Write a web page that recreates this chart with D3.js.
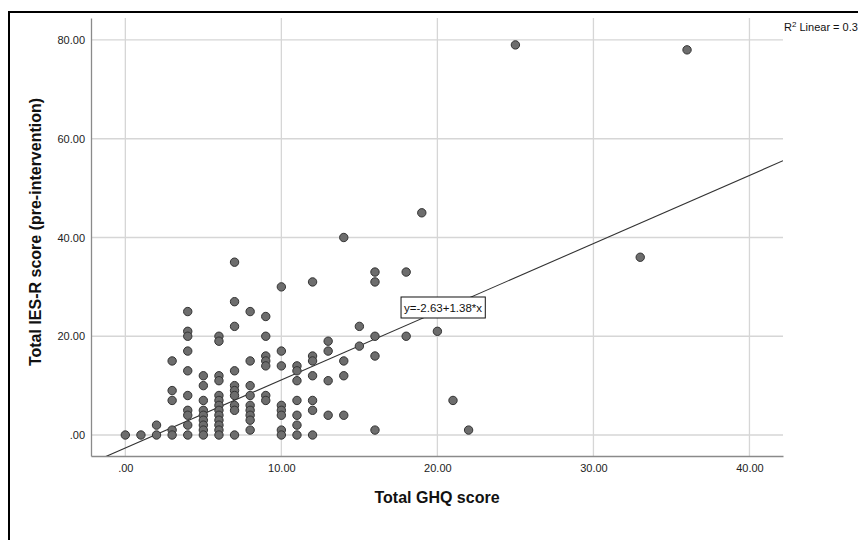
<!DOCTYPE html>
<html lang="en">
<head>
    <meta charset="UTF-8">
    <title>Total GHQ score vs Total IES-R score</title>
    <style>
        body, html {
            margin: 0;
            padding: 0;
            width: 100%;
            height: 100%;
            overflow: hidden;
            background-color: #fff;
            font-family: Arial, 'Liberation Sans', sans-serif;
        }
        .tick-label {
            font-size: 11px;
            fill: #222;
        }
        .axis-title {
            font-size: 16px;
            font-weight: bold;
            fill: #111;
        }
    </style>
</head>
<body>

<div id="chart"></div>

<script src="https://d3js.org/d3.v7.min.js"></script>
<script>
    // GHQ score (x) and IES-R score (y), one entry per respondent
    const ghqScore = [
        0, 1, 2, 2,
        3, 3, 3, 3, 3,
        4, 4, 4, 4, 4, 4, 4, 4, 4, 4,
        5, 5, 5, 5, 5, 5, 5, 5, 5,
        6, 6, 6, 6, 6, 6, 6, 6, 6, 6, 6, 6, 6,
        7, 7, 7, 7, 7, 7, 7, 7, 7, 7,
        8, 8, 8, 8, 8, 8, 8, 8, 8,
        9, 9, 9, 9, 9, 9, 9,
        10, 10, 10, 10, 10, 10, 10, 10,
        11, 11, 11, 11, 11, 11, 11,
        12, 12, 12, 12, 12, 12, 12,
        13, 13, 13, 13,
        14, 14, 14, 14,
        15, 15,
        16, 16, 16, 16, 16,
        18, 18, 19, 20, 21, 22, 25, 33, 36
    ];
    const iesScore = [
        0, 0, 2, 0,
        15, 9, 7, 1, 0,
        25, 21, 20, 17, 13, 8, 5, 4, 2, 0,
        12, 10, 7, 5, 4, 3, 2, 1, 0,
        20, 19, 12, 11, 8, 7, 6, 5, 4, 3, 2, 1, 0,
        35, 27, 22, 13, 10, 9, 8, 6, 5, 0,
        25, 15, 10, 8, 6, 5, 4, 3, 1,
        24, 20, 16, 15, 14, 8, 7,
        30, 17, 14, 6, 5, 4, 1, 0,
        14, 13, 11, 7, 4, 2, 0,
        31, 16, 15, 12, 7, 5, 0,
        19, 17, 11, 4,
        40, 15, 12, 4,
        22, 18,
        33, 31, 20, 16, 1,
        33, 20, 45, 21, 7, 1, 79, 36, 78
    ];

    const xTicks = [0, 10, 20, 30, 40];
    const xTickLabels = [".00", "10.00", "20.00", "30.00", "40.00"];
    const yTicks = [0, 20, 40, 60, 80];
    const yTickLabels = [".00", "20.00", "40.00", "60.00", "80.00"];

    // linear fit shown by SPSS
    const fitIntercept = -2.63;
    const fitSlope = 1.38;
    const fitLabel = "y=-2.63+1.38*x";
    const fitLabelAt = [17.67, 27.95];
    const rSquaredText = "Linear = 0.3";

    const width = 858;
    const height = 540;
    const margin = {top: 18, right: 75, bottom: 84, left: 91};

    const svg = d3.select("#chart")
        .append("svg")
        .attr("width", width)
        .attr("height", height);

    // outer frame (only top and left edges fall inside the picture)
    svg.append("rect")
        .attr("x", 9)
        .attr("y", 12)
        .attr("width", 900)
        .attr("height", 600)
        .attr("fill", "none")
        .attr("stroke", "#000")
        .attr("stroke-width", 2);

    const x = d3.scaleLinear()
        .domain([-2.2, 42.15])
        .range([margin.left, width - margin.right]);

    const y = d3.scaleLinear()
        .domain([-4.25, 84.45])
        .range([height - margin.bottom, margin.top]);

    const plotW = width - margin.right - margin.left;
    const plotH = height - margin.bottom - margin.top;

    svg.append("clipPath")
        .attr("id", "plot-clip")
        .append("rect")
        .attr("x", margin.left)
        .attr("y", margin.top)
        .attr("width", plotW)
        .attr("height", plotH);

    // grid lines
    const grid = svg.append("g").attr("stroke", "#d6d6d6").attr("stroke-width", 1.3);
    grid.selectAll("line.v")
        .data(xTicks)
        .enter().append("line")
        .attr("x1", d => x(d)).attr("x2", d => x(d))
        .attr("y1", margin.top).attr("y2", height - margin.bottom);
    grid.selectAll("line.h")
        .data(yTicks)
        .enter().append("line")
        .attr("y1", d => y(d)).attr("y2", d => y(d))
        .attr("x1", margin.left).attr("x2", width - margin.right);

    // axes
    const xAxis = svg.append("g")
        .attr("transform", `translate(0,${height - margin.bottom})`)
        .call(d3.axisBottom(x).tickValues(xTicks).tickSize(0).tickPadding(8)
            .tickFormat((d, i) => xTickLabels[i]));
    const yAxis = svg.append("g")
        .attr("transform", `translate(${margin.left},0)`)
        .call(d3.axisLeft(y).tickValues(yTicks).tickSize(0).tickPadding(6)
            .tickFormat((d, i) => yTickLabels[i]));

    [xAxis, yAxis].forEach(a => {
        a.select(".domain").attr("stroke", "#8a8a8a").attr("stroke-width", 1.3);
        a.selectAll("text")
            .attr("class", "tick-label")
            .attr("font-family", null)
            .attr("font-size", null);
    });

    // fit line
    const xd = x.domain();
    svg.append("line")
        .attr("clip-path", "url(#plot-clip)")
        .attr("x1", x(xd[0])).attr("y1", y(fitIntercept + fitSlope * xd[0]))
        .attr("x2", x(xd[1])).attr("y2", y(fitIntercept + fitSlope * xd[1]))
        .attr("stroke", "#333")
        .attr("stroke-width", 1.1);

    // points
    svg.append("g")
        .selectAll("circle")
        .data(ghqScore.map((g, i) => [g, iesScore[i]]))
        .enter().append("circle")
        .attr("cx", d => x(d[0]))
        .attr("cy", d => y(d[1]))
        .attr("r", 4.2)
        .attr("fill", "#6d6d6d")
        .attr("stroke", "#333")
        .attr("stroke-width", 1);

    // fit equation label
    const lab = svg.append("g")
        .attr("transform", `translate(${x(fitLabelAt[0])},${y(fitLabelAt[1])})`);
    const labText = lab.append("text")
        .attr("x", 3)
        .attr("y", 15)
        .attr("font-size", 11.5)
        .attr("fill", "#111")
        .text(fitLabel);
    const bb = labText.node().getBBox();
    lab.insert("rect", "text")
        .attr("x", 0)
        .attr("y", 0)
        .attr("width", bb.width + 6)
        .attr("height", 21)
        .attr("fill", "#fff")
        .attr("stroke", "#111")
        .attr("stroke-width", 1);

    // R squared note
    const rt = svg.append("text")
        .attr("x", 784)
        .attr("y", 31)
        .attr("font-size", 11)
        .attr("fill", "#111");
    rt.append("tspan").text("R");
    rt.append("tspan").attr("dy", -4).attr("font-size", 8).text("2");
    rt.append("tspan").attr("dy", 4).text(" " + rSquaredText);

    // axis titles
    svg.append("text")
        .attr("class", "axis-title")
        .attr("x", margin.left + plotW / 2)
        .attr("y", 503)
        .attr("text-anchor", "middle")
        .text("Total GHQ score");

    svg.append("text")
        .attr("class", "axis-title")
        .attr("transform", `translate(41,${margin.top + plotH / 2 - 5}) rotate(-90)`)
        .attr("text-anchor", "middle")
        .text("Total IES-R score (pre-intervention)");
</script>

</body>
</html>
